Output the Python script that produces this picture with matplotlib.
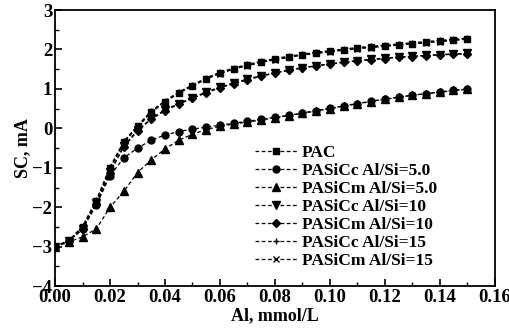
import numpy as np
import matplotlib.pyplot as plt
from matplotlib.ticker import MultipleLocator

plt.rcParams['font.family'] = ['Liberation Serif', 'DejaVu Serif']

# Al dose, mmol/L
al_dose = np.round(np.arange(0, 0.1501, 0.005), 3)

pac = [-3.0, -2.85, -2.5, -1.85, -1.0, -0.35, 0.05, 0.42, 0.68, 0.9, 1.08, 1.26, 1.4, 1.51, 1.6,
       1.68, 1.75, 1.81, 1.86, 1.91, 1.95, 1.99, 2.03, 2.06, 2.09, 2.12, 2.15, 2.18, 2.21, 2.24, 2.27]
pasicc_15 = [-3.0, -2.84, -2.48, -1.82, -0.98, -0.33, 0.07, 0.44, 0.7, 0.92, 1.1, 1.28, 1.42, 1.53, 1.62,
             1.7, 1.77, 1.83, 1.88, 1.93, 1.97, 2.01, 2.05, 2.08, 2.11, 2.14, 2.17, 2.2, 2.23, 2.26, 2.29]
pasicm_15 = [-3.0, -2.86, -2.52, -1.88, -1.02, -0.37, 0.03, 0.4, 0.67, 0.89, 1.07, 1.25, 1.39, 1.5, 1.59,
             1.67, 1.74, 1.8, 1.86, 1.9, 1.94, 1.98, 2.02, 2.05, 2.08, 2.11, 2.14, 2.17, 2.2, 2.23, 2.26]
pasicc_10 = [-3.0, -2.85, -2.55, -1.9, -1.1, -0.45, -0.05, 0.25, 0.47, 0.63, 0.78, 0.92, 1.05, 1.15, 1.25,
             1.34, 1.41, 1.48, 1.54, 1.59, 1.64, 1.68, 1.72, 1.75, 1.78, 1.81, 1.83, 1.85, 1.87, 1.89, 1.9]
pasicm_10 = [-3.0, -2.86, -2.56, -1.92, -1.12, -0.47, -0.07, 0.23, 0.45, 0.61, 0.76, 0.9, 1.03, 1.13, 1.23,
             1.32, 1.4, 1.47, 1.53, 1.58, 1.63, 1.67, 1.71, 1.74, 1.77, 1.8, 1.82, 1.84, 1.86, 1.88, 1.89]
pasicc_5 = [-3.0, -2.85, -2.55, -1.95, -1.2, -0.75, -0.5, -0.3, -0.17, -0.08, -0.02, 0.03, 0.08, 0.13, 0.18,
            0.23, 0.28, 0.33, 0.39, 0.45, 0.51, 0.57, 0.63, 0.69, 0.74, 0.79, 0.84, 0.88, 0.92, 0.96, 0.99]
pasicm_5 = [-3.0, -2.88, -2.75, -2.55, -2.0, -1.6, -1.12, -0.8, -0.52, -0.3, -0.15, -0.03, 0.05, 0.11, 0.16,
            0.21, 0.27, 0.32, 0.38, 0.44, 0.5, 0.56, 0.62, 0.68, 0.74, 0.79, 0.84, 0.88, 0.92, 0.96, 1.0]

labels = ['PAC', 'PASiCc Al/Si=5.0', 'PASiCm Al/Si=5.0', 'PASiCc Al/Si=10',
          'PASiCm Al/Si=10', 'PASiCc Al/Si=15', 'PASiCm Al/Si=15']
series = [pac, pasicc_5, pasicm_5, pasicc_10, pasicm_10, pasicc_15, pasicm_15]
markers = ['s', 'o', '^', 'v', 'D', '+', 'x']
msizes = [4.5, 5, 5.5, 5.5, 4.5, 5, 4.5]

fig = plt.figure(figsize=(5.1, 3.35), dpi=100)
ax = fig.add_axes([0.108, 0.146, 0.862, 0.824])

for y, lab, m, ms in zip(series, labels, markers, msizes):
    ax.plot(al_dose, y, color='black', linestyle=(0, (3, 2)), linewidth=0.9,
            marker=m, markersize=ms, markeredgewidth=1.0, label=lab)

ax.set_xlim(0, 0.16)
ax.set_ylim(-4, 3)
ax.xaxis.set_major_locator(MultipleLocator(0.02))
ax.xaxis.set_minor_locator(MultipleLocator(0.01))
ax.yaxis.set_major_locator(MultipleLocator(1))
ax.yaxis.set_minor_locator(MultipleLocator(0.5))
ax.xaxis.set_major_formatter(plt.FormatStrFormatter('%.2f'))
ax.tick_params(which='both', direction='in', top=False, right=False, labelsize=13.5)
ax.tick_params(which='major', length=5, width=1.2, pad=2)
ax.tick_params(which='minor', length=3, width=1.0)
for lab in ax.get_xticklabels() + ax.get_yticklabels():
    lab.set_fontweight('bold')
for sp in ax.spines.values():
    sp.set_linewidth(1.3)

ax.set_xlabel('Al, mmol/L', fontsize=13, fontweight='bold', labelpad=1)
ax.set_ylabel('SC, mA', fontsize=13, fontweight='bold', labelpad=1)

leg = ax.legend(loc='upper left', bbox_to_anchor=(0.455, 0.51), frameon=False,
                handlelength=2.4, labelspacing=0.1, handletextpad=0.3,
                borderaxespad=0, borderpad=0, prop={'weight': 'bold', 'size': 12.5})

plt.savefig('out.png', dpi=100)
